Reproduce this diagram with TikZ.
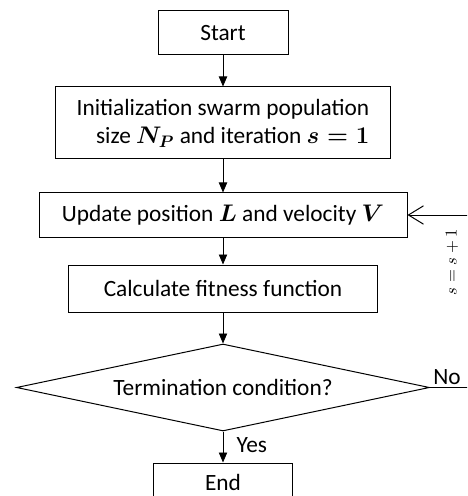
\documentclass[tikz,border=0pt]{standalone}
\usepackage{amsmath,amssymb}
\usepackage{fontspec}
\setmainfont{Carlito}
\usepackage{tikz}
\usetikzlibrary{arrows.meta, shapes, positioning, calc}
\tikzset{
  stepbox/.style={rectangle, draw=black, line width=0.6pt, inner sep=2pt,
                  font=\fontsize{14}{17}\selectfont, align=center},
  cond/.style={diamond, aspect=4.75, draw=black, line width=0.6pt, inner sep=0pt,
               minimum width=247.8pt, minimum height=52.2pt,
               font=\fontsize{14}{17}\selectfont},
  arc/.style={-{Triangle[length=6pt, width=5pt]}, line width=0.5pt},
  back/.style={-{Straight Barb[length=9pt, width=11pt]}, line width=0.6pt},
  lbl/.style={font=\fontsize{14}{17}\selectfont, inner sep=0pt}
}
\begin{document}
\begin{tikzpicture}[x=0.6pt, y=-0.6pt, node distance=18.6pt]
  \useasboundingbox (0,0) rectangle (467,496);
  \clip (0,0) rectangle (467,496);
  \node[stepbox, minimum width=78pt, minimum height=26.4pt] (start) at (223,33) {Start};
  \node[stepbox, below=of start, minimum width=201pt, minimum height=43.2pt, align=right]
       (init) {Initialization swarm population\\size $\boldsymbol{N_P}$ and iteration $\boldsymbol{s=1}$};
  \node[stepbox, below=19.8pt of init, minimum width=220.8pt, minimum height=26.4pt]
       (upd) {Update position $\boldsymbol{L}$ and velocity $\boldsymbol{V}$};
  \node[stepbox, below=16.2pt of upd, minimum width=185.4pt, minimum height=28.2pt]
       (fit) {Calculate fitness function};
  \node[cond, below=of fit] (dec) {Termination condition?};
  \node[stepbox, below=of dec, minimum width=83.4pt, minimum height=23.8pt] (end) {End};
  \coordinate (rt) at (478,213);
  \foreach \a/\b in {start/init, init/upd, upd/fit, fit/dec, dec/end} \draw[arc] (\a) -- (\b);
  % back to the update step
  \draw[back] (dec.east) -- (dec.east -| rt) |- (upd.east);
  \node[lbl, anchor=south west] (no) at ($(dec.east)+(3,-3)$) {No};
  \node[lbl, right=8pt of $(dec.south)!0.45!(end.north)$] (yes) {Yes};
  \node[font=\normalsize, rotate=90] (inc) at (452,262) {$s=s+1$};
\end{tikzpicture}
\end{document}
